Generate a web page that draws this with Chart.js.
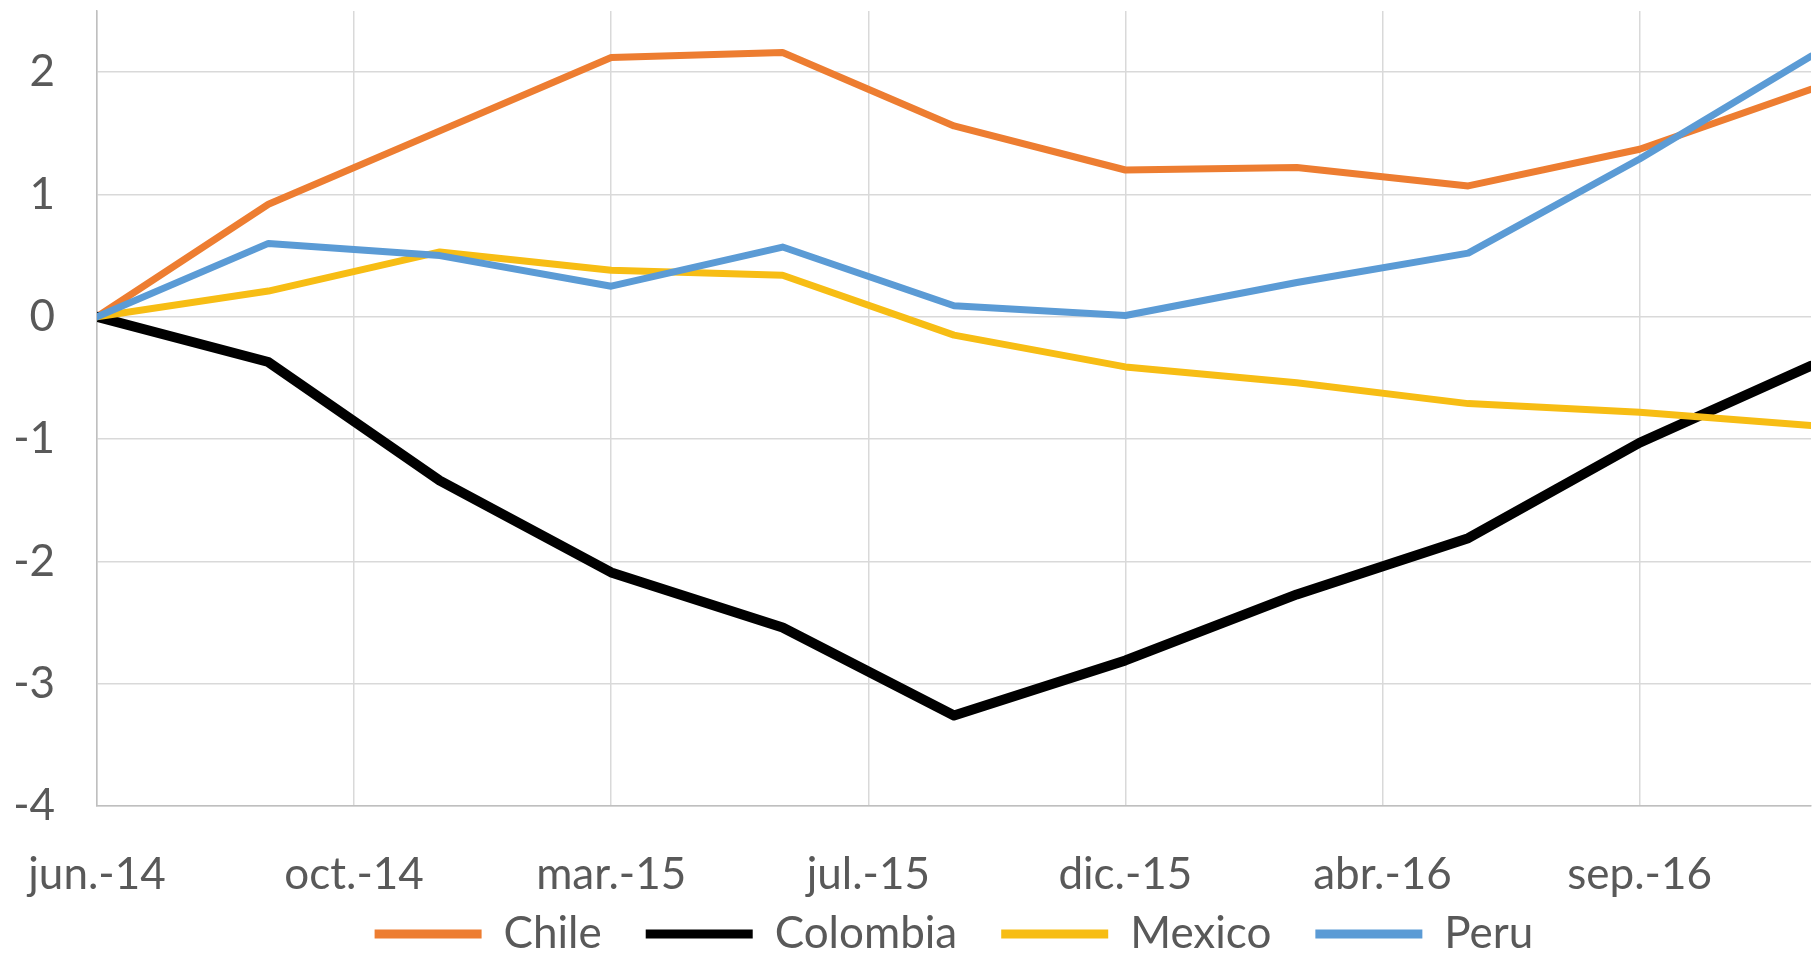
<!DOCTYPE html>
<html>
<head>
<meta charset="utf-8">
<script src="https://cdn.jsdelivr.net/npm/chart.js@4/dist/chart.umd.min.js"></script>
<style>
  html, body { margin: 0; padding: 0; background: #ffffff; }
  #wrap { width: 1818px; height: 960px; }
</style>
</head>
<body>
<div id="wrap"><canvas id="chart"></canvas></div>
<script>
// ── Data (quarterly, months since jun-14) ──
var quarters = ['jun.-14', 'sep.-14', 'dic.-14', 'mar.-15', 'jun.-15', 'sep.-15',
                'dic.-15', 'mar.-16', 'jun.-16', 'sep.-16', 'dic.-16'];
var months = [0, 3, 6, 9, 12, 15, 18, 21, 24, 27, 30];
var tickLabels = ['jun.-14', 'oct.-14', 'mar.-15', 'jul.-15', 'dic.-15', 'abr.-16', 'sep.-16'];

var chile    = [0, 0.92, 1.52, 2.12, 2.16, 1.56, 1.20, 1.22, 1.07, 1.37, 1.86];
var colombia = [0, -0.37, -1.34, -2.09, -2.54, -3.26, -2.81, -2.27, -1.81, -1.03, -0.40];
var mexico   = [0, 0.21, 0.53, 0.38, 0.34, -0.15, -0.41, -0.54, -0.71, -0.78, -0.89];
var peru     = [0, 0.60, 0.50, 0.25, 0.57, 0.09, 0.01, 0.28, 0.52, 1.29, 2.13];

function points(values) {
    return values.map(function (v, i) { return { x: months[i], y: v }; });
}

function series(label, values, color, width, order) {
    return {
        label: label,
        data: points(values),
        borderColor: color,
        backgroundColor: color,
        borderWidth: width,
        pointRadius: 0,
        tension: 0,
        borderJoinStyle: 'round',
        borderCapStyle: 'round',
        order: order
    };
}

var textColor = '#595959';
var gridColor = '#d9d9d9';
var fontFamily = "Lato, 'Noto Sans', sans-serif";
var fontSize = 44;

// pull the legend's top edge up so it sits close under the axis labels
var legendNudge = {
    id: 'legendNudge',
    afterLayout: function (chart) {
        if (chart.legend) {
            chart.legend.top -= 30;
        }
    }
};

new Chart(document.getElementById('chart'), {
    type: 'line',
    data: {
        datasets: [
            series('Chile', chile, '#ed7d31', 7, 4),
            series('Colombia', colombia, '#000000', 10, 3),
            series('Mexico', mexico, '#f7bd14', 7, 2),
            series('Peru', peru, '#5b9bd5', 7, 1)
        ]
    },
    plugins: [legendNudge],
    options: {
        responsive: true,
        maintainAspectRatio: false,
        animation: false,
        layout: { padding: { top: 11, right: 7, bottom: 0, left: 0 } },
        plugins: {
            tooltip: { enabled: false },
            legend: {
                position: 'bottom',
                fullSize: false,
                maxHeight: 62,
                labels: {
                    color: textColor,
                    font: { family: fontFamily, size: fontSize },
                    boxWidth: 107,
                    boxHeight: 9,
                    padding: 44,
                    sort: function (a, b) { return a.datasetIndex - b.datasetIndex; },
                    generateLabels: function (chart) {
                        var items = Chart.defaults.plugins.legend.labels.generateLabels(chart);
                        items.forEach(function (it) { it.lineWidth = 0; });
                        return items;
                    }
                }
            }
        },
        scales: {
            x: {
                type: 'linear',
                min: 0,
                max: 30,
                afterFit: function (scale) {
                    scale.height = 92;
                    scale.paddingLeft = 0;
                    scale.paddingRight = 0;
                },
                grid: { color: gridColor, lineWidth: 1.5, drawTicks: false },
                border: { color: '#bfbfbf', width: 1.5 },
                ticks: {
                    stepSize: 4.5,
                    includeBounds: false,
                    maxRotation: 0,
                    autoSkip: false,
                    padding: 42,
                    color: textColor,
                    font: { family: fontFamily, size: fontSize },
                    callback: function (value) {
                        var idx = Math.round(value / 4.5);
                        return tickLabels[idx] !== undefined ? tickLabels[idx] : '';
                    }
                }
            },
            y: {
                min: -4,
                max: 2.5,
                afterFit: function (scale) {
                    scale.width = 97;
                    scale.paddingTop = 0;
                    scale.paddingBottom = 0;
                },
                grid: { color: gridColor, lineWidth: 1.5, drawTicks: false },
                border: { color: '#bfbfbf', width: 1.5 },
                ticks: {
                    stepSize: 1,
                    includeBounds: false,
                    padding: 42,
                    color: textColor,
                    font: { family: fontFamily, size: fontSize }
                }
            }
        }
    }
});
</script>
</body>
</html>
